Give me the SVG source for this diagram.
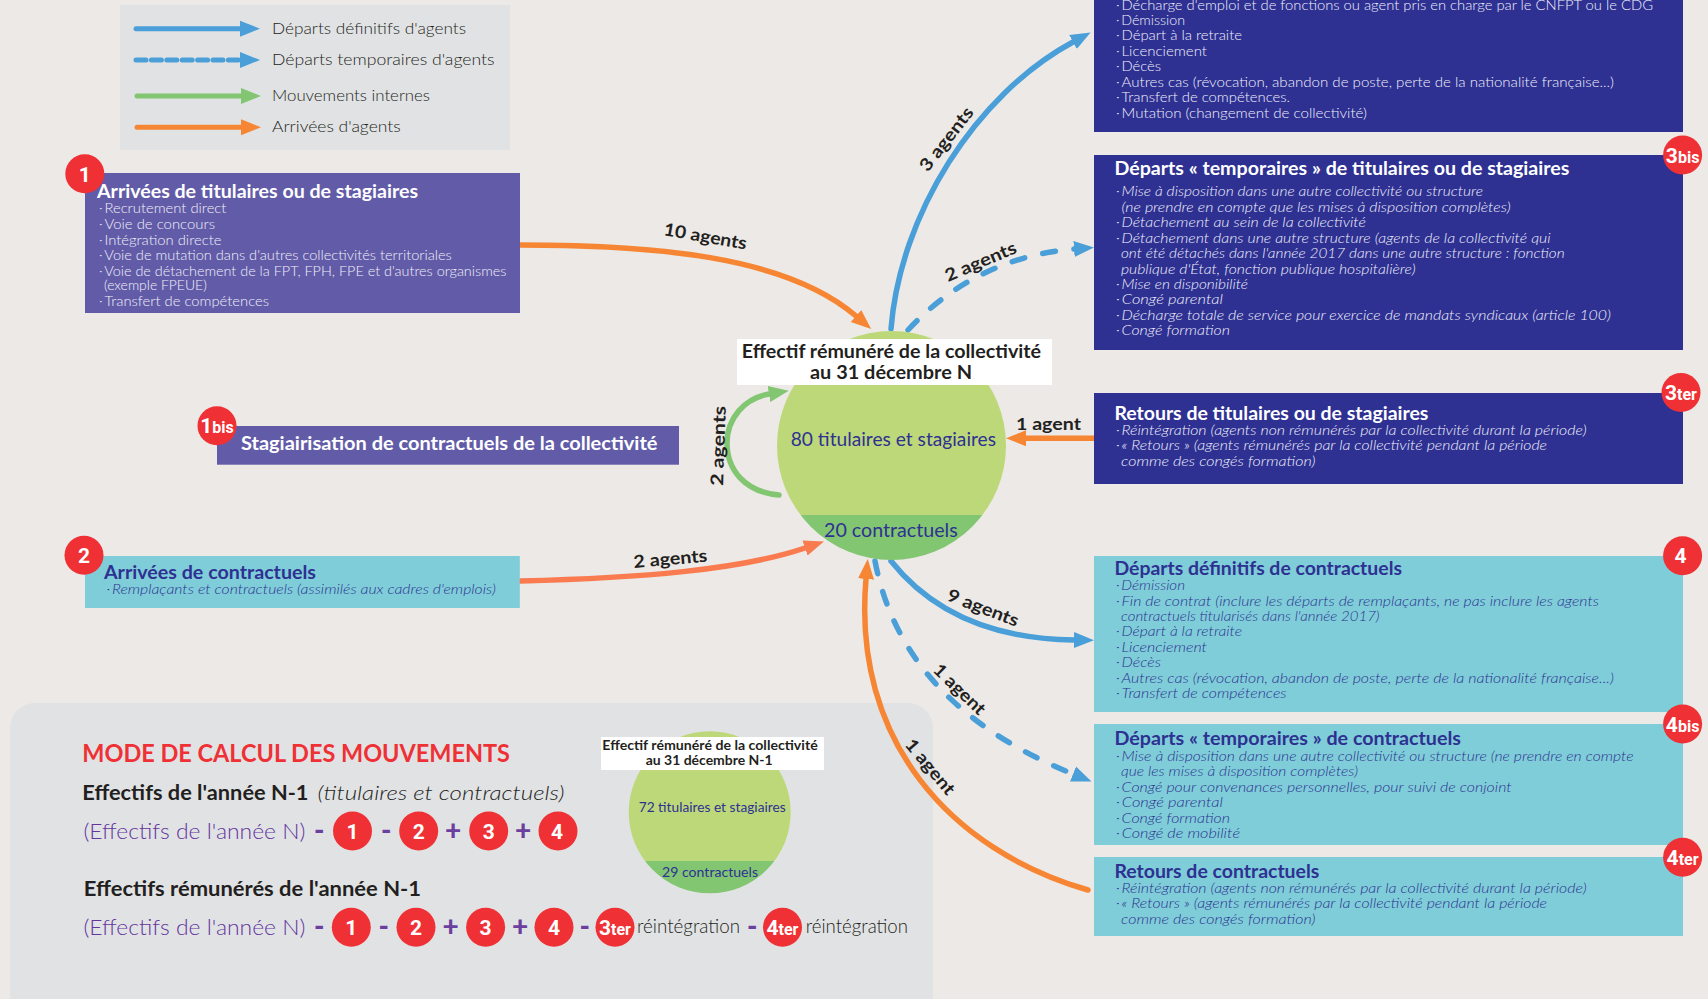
<svg xmlns="http://www.w3.org/2000/svg" width="1708" height="999" viewBox="0 0 1708 999">
<style>
text{font-family:Lato,"Liberation Sans",sans-serif}
.h{font-size:18.5px;font-weight:700}
.l{font-size:13px;font-weight:300}
.i{font-style:italic}
.w{fill:#fff}
.pl{fill:#f0eff8}
.db{fill:#f0f0fa}
.n{fill:#2e3192}
.lg{font-size:16.5px;fill:#231f20;font-weight:300}
.lab{font-size:17.5px;font-weight:700;fill:#231f20}
.bd{fill:#ef3034}
.bt{font-family:Roboto,"Liberation Sans",sans-serif;font-weight:700;fill:#fff;font-size:21px}
.bs{font-size:16px}
.blue{fill:none;stroke:#4a9fd8;stroke-width:5.5;stroke-linecap:round}
.dash{stroke-dasharray:13 18.5}
.or{fill:none;stroke:#f68633;stroke-width:5.5;stroke-linecap:round}
.or2{fill:none;stroke:#f97b4f;stroke-width:5.5;stroke-linecap:round}
.gr{fill:none;stroke:#82c672;stroke-width:5.5;stroke-linecap:round}
.lt{stroke-width:5}
.cap{font-weight:700;fill:#231f20}
.pur{fill:#63359f;font-size:22px;font-weight:300}
.sign{fill:#6b3fa0;font-size:28px;font-weight:900}
.blk{font-size:20px;font-weight:700;fill:#231f20}
.re{font-size:19px;fill:#231f20;font-weight:300}
</style>
<defs>
<marker id="mb" markerUnits="userSpaceOnUse" markerWidth="22" markerHeight="20" refX="0" refY="10" orient="auto"><path d="M0 2L20 10L0 18Z" fill="#4a9fd8"/></marker>
<marker id="mo" markerUnits="userSpaceOnUse" markerWidth="22" markerHeight="20" refX="0" refY="10" orient="auto"><path d="M0 2L20 10L0 18Z" fill="#f68633"/></marker>
<marker id="mo2" markerUnits="userSpaceOnUse" markerWidth="22" markerHeight="20" refX="0" refY="10" orient="auto"><path d="M0 2L20 10L0 18Z" fill="#f97b4f"/></marker>
<marker id="mg" markerUnits="userSpaceOnUse" markerWidth="22" markerHeight="20" refX="0" refY="10" orient="auto"><path d="M0 2L20 10L0 18Z" fill="#82c672"/></marker>
<clipPath id="c1"><circle cx="891.5" cy="445.5" r="114.5"/></clipPath>
<clipPath id="c2"><circle cx="709.7" cy="812.3" r="81"/></clipPath>
</defs>
<rect width="1708" height="999" fill="#ece9e6"/>

<g id="legend">
<rect x="120" y="5" width="390" height="145" fill="#e1e2e4"/>
<path class="blue lt" d="M136 28.7H240" marker-end="url(#mb)"/>
<path class="blue lt" style="stroke-dasharray:10 5.4" d="M136 60H240" marker-end="url(#mb)"/>
<path class="gr lt" d="M137 96H241" marker-end="url(#mg)"/>
<path class="or lt" d="M137 127.3H241" marker-end="url(#mo)"/>
<text class="lg" x="272" y="34" textLength="194" lengthAdjust="spacingAndGlyphs">Départs définitifs d'agents</text>
<text class="lg" x="272" y="65" textLength="222.6" lengthAdjust="spacingAndGlyphs">Départs temporaires d'agents</text>
<text class="lg" x="272" y="101" textLength="158" lengthAdjust="spacingAndGlyphs">Mouvements internes</text>
<text class="lg" x="272" y="132" textLength="128.7" lengthAdjust="spacingAndGlyphs">Arrivées d'agents</text>
</g>

<g id="panel-calcul">
<path d="M10 999V728a25 25 0 0 1 25-25H908a25 25 0 0 1 25 25V999Z" fill="#e1e2e4"/>
<text x="82.3" y="762" textLength="427.7" lengthAdjust="spacingAndGlyphs" font-size="25" font-weight="700" fill="#ef3034">MODE DE CALCUL DES MOUVEMENTS</text>
<text class="blk" x="82.3" y="800" textLength="226.2" lengthAdjust="spacingAndGlyphs">Effectifs de l'année N-1</text>
<text x="317.6" y="800" textLength="246.9" lengthAdjust="spacingAndGlyphs" font-size="20" font-style="italic" font-weight="300" fill="#231f20">(titulaires et contractuels)</text>
<text class="pur" x="83.4" y="839" textLength="222" lengthAdjust="spacingAndGlyphs">(Effectifs de l'année N)</text>
<text class="sign" x="314" y="840">-</text>
<text class="sign" x="381" y="840">-</text>
<text class="sign" x="445" y="840">+</text>
<text class="sign" x="515" y="840">+</text>
<g id="calc-a1"><circle class="bd" cx="352.5" cy="831" r="19.5"/><text class="bt" x="352.5" y="838.5" text-anchor="middle">1</text></g>
<g id="calc-a2"><circle class="bd" cx="418.7" cy="831" r="19.5"/><text class="bt" x="418.7" y="838.5" text-anchor="middle">2</text></g>
<g id="calc-a3"><circle class="bd" cx="488.7" cy="831" r="19.5"/><text class="bt" x="488.7" y="838.5" text-anchor="middle">3</text></g>
<g id="calc-a4"><circle class="bd" cx="558" cy="831" r="19.5"/><text class="bt" x="557" y="838.5" text-anchor="middle">4</text></g>
<text class="blk" x="83.8" y="895.7" textLength="337.2" lengthAdjust="spacingAndGlyphs">Effectifs rémunérés de l'année N-1</text>
<text class="pur" x="83.4" y="935" textLength="222" lengthAdjust="spacingAndGlyphs">(Effectifs de l'année N)</text>
<text class="sign" x="314" y="936">-</text>
<text class="sign" x="378.5" y="936">-</text>
<text class="sign" x="442.5" y="936">+</text>
<text class="sign" x="512" y="936">+</text>
<text class="sign" x="579.5" y="936">-</text>
<text class="sign" x="747" y="936">-</text>
<g id="calc-b1"><circle class="bd" cx="351.3" cy="927.3" r="19.5"/><text class="bt" x="351.3" y="934.8" text-anchor="middle">1</text></g>
<g id="calc-b2"><circle class="bd" cx="416" cy="927.3" r="19.5"/><text class="bt" x="416" y="934.8" text-anchor="middle">2</text></g>
<g id="calc-b3"><circle class="bd" cx="485.6" cy="927.3" r="19.5"/><text class="bt" x="485.6" y="934.8" text-anchor="middle">3</text></g>
<g id="calc-b4"><circle class="bd" cx="554" cy="927.3" r="19.5"/><text class="bt" x="554" y="934.8" text-anchor="middle">4</text></g>
<g id="calc-b3ter"><circle class="bd" cx="615" cy="927.3" r="19.5"/><text class="bt" x="615" y="934.8" text-anchor="middle">3<tspan class="bs">ter</tspan></text></g>
<text class="re" x="637" y="933" textLength="103" lengthAdjust="spacingAndGlyphs">réintégration</text>
<g id="calc-b4ter"><circle class="bd" cx="782.5" cy="927.3" r="19.5"/><text class="bt" x="782.5" y="934.8" text-anchor="middle">4<tspan class="bs">ter</tspan></text></g>
<text class="re" x="805.7" y="933" textLength="102.3" lengthAdjust="spacingAndGlyphs">réintégration</text>
</g>

<g id="cercle-n-1">
<g clip-path="url(#c2)"><rect x="620" y="725" width="180" height="136" fill="#bdd878"/><rect x="620" y="861" width="180" height="40" fill="#82c672"/></g>
<rect x="601" y="737" width="223" height="33" fill="#fff"/>
<text class="cap" x="602.3" y="750" font-size="13.5" textLength="215.4" lengthAdjust="spacingAndGlyphs">Effectif rémunéré de la collectivité</text>
<text class="cap" x="645.7" y="764.7" font-size="13.5" textLength="127" lengthAdjust="spacingAndGlyphs">au 31 décembre N-1</text>
<text class="n" x="638.7" y="812" font-size="13" textLength="147" lengthAdjust="spacingAndGlyphs">72 titulaires et stagiaires</text>
<text class="n" x="662" y="877" font-size="13.5" textLength="96" lengthAdjust="spacingAndGlyphs">29 contractuels</text>
</g>

<g id="connecteurs">
<path class="or" d="M520 245C650 245 785 255 856 316" marker-end="url(#mo)"/>
<path class="blue" d="M891 329C900 215 975 95 1073 42" marker-end="url(#mb)"/>
<path class="blue dash" d="M908 330C945 290 1000 255 1074 249" marker-end="url(#mb)"/>
<path class="or" d="M1094 438.3H1026" marker-end="url(#mo)"/>
<path class="gr" d="M779 495C745 492 727 470 727 443C727 418 745 398 769 394" marker-end="url(#mg)"/>
<path class="or2" d="M520 581C640 578 740 570 805 548" marker-end="url(#mo2)"/>
<path class="blue" d="M891 561C930 610 990 639 1074 640" marker-end="url(#mb)"/>
<path class="blue dash" d="M875 561C890 640 940 720 1073 774" marker-end="url(#mb)"/>
<path class="or" d="M1088 890C950 850 852 740 866 579" marker-end="url(#mo)"/>
<text class="lab" textLength="84" lengthAdjust="spacingAndGlyphs" transform="translate(663 235) rotate(10)">10 agents</text>
<text class="lab" textLength="76" lengthAdjust="spacingAndGlyphs" transform="translate(927.7 172.7) rotate(-52)">3 agents</text>
<text class="lab" textLength="76" lengthAdjust="spacingAndGlyphs" transform="translate(948 282) rotate(-23)">2 agents</text>
<text class="lab" textLength="65" lengthAdjust="spacingAndGlyphs" transform="translate(1016 430)">1 agent</text>
<text class="lab" textLength="80" lengthAdjust="spacingAndGlyphs" transform="translate(723 486) rotate(-88)">2 agents</text>
<text class="lab" textLength="74" lengthAdjust="spacingAndGlyphs" transform="translate(634 568) rotate(-5)">2 agents</text>
<text class="lab" textLength="75" lengthAdjust="spacingAndGlyphs" transform="translate(946 600) rotate(21)">9 agents</text>
<text class="lab" textLength="65" lengthAdjust="spacingAndGlyphs" transform="translate(932 671) rotate(44)">1 agent</text>
<text class="lab" textLength="67" lengthAdjust="spacingAndGlyphs" transform="translate(904 745) rotate(50)">1 agent</text>
</g>

<g id="cercle-n">
<g clip-path="url(#c1)"><rect x="770" y="325" width="245" height="190" fill="#bdd878"/><rect x="770" y="515" width="245" height="50" fill="#82c672"/></g>
<rect x="737" y="339" width="315" height="46" fill="#fff"/>
<text class="cap" x="741.7" y="358" font-size="19" textLength="299.3" lengthAdjust="spacingAndGlyphs">Effectif rémunéré de la collectivité</text>
<text class="cap" x="810" y="379" font-size="19" textLength="162" lengthAdjust="spacingAndGlyphs">au 31 décembre N</text>
<text class="n" x="790.7" y="446" font-size="19.5" textLength="205.3" lengthAdjust="spacingAndGlyphs">80 titulaires et stagiaires</text>
<text class="n" x="824" y="536.7" font-size="19.5" textLength="133.7" lengthAdjust="spacingAndGlyphs">20 contractuels</text>
</g>

<g id="n1">
<rect x="85" y="173" width="435" height="140" fill="#625ca8"/>
<circle class="bd" cx="84.8" cy="173.7" r="19.5"/><text class="bt" x="84.8" y="181.5" text-anchor="middle">1</text>
<text class="h w" x="97" y="198" textLength="321" lengthAdjust="spacingAndGlyphs">Arrivées de titulaires ou de stagiaires</text>
<text class="l pl" x="99" y="213" textLength="127.4" lengthAdjust="spacingAndGlyphs">·&#8201;Recrutement direct</text>
<text class="l pl" x="99" y="228.5" textLength="116" lengthAdjust="spacingAndGlyphs">·&#8201;Voie de concours</text>
<text class="l pl" x="99" y="244.5" textLength="122.4" lengthAdjust="spacingAndGlyphs">·&#8201;Intégration directe</text>
<text class="l pl" x="99" y="259.5" textLength="352.8" lengthAdjust="spacingAndGlyphs">·&#8201;Voie de mutation dans d'autres collectivités territoriales</text>
<text class="l pl" x="99" y="275.5" textLength="407.4" lengthAdjust="spacingAndGlyphs">·&#8201;Voie de détachement de la FPT, FPH, FPE et d'autres organismes</text>
<text class="l pl" x="104" y="290" textLength="102.8" lengthAdjust="spacingAndGlyphs">(exemple FPEUE)</text>
<text class="l pl" x="99" y="306" textLength="170" lengthAdjust="spacingAndGlyphs">·&#8201;Transfert de compétences</text>
</g>

<g id="n1bis">
<rect x="217" y="426" width="462" height="38.7" fill="#625ca8"/>
<circle class="bd" cx="217" cy="425.7" r="19.5"/><text class="bt" x="217" y="433.2" text-anchor="middle">1<tspan class="bs">bis</tspan></text>
<text class="h w" x="241" y="450" textLength="416.4" lengthAdjust="spacingAndGlyphs">Stagiairisation de contractuels de la collectivité</text>
</g>

<g id="n2">
<rect x="85" y="556" width="434.8" height="52" fill="#7fcdd8"/>
<circle class="bd" cx="84" cy="555.3" r="19.5"/><text class="bt" x="84" y="562.8" text-anchor="middle">2</text>
<text class="h n" x="104" y="579" textLength="212" lengthAdjust="spacingAndGlyphs">Arrivées de contractuels</text>
<text class="l i n" x="106.5" y="594" textLength="389.3" lengthAdjust="spacingAndGlyphs">·&#8201;Remplaçants et contractuels (assimilés aux cadres d'emplois)</text>
</g>

<g id="n3">
<rect x="1094" y="-10" width="589" height="142" fill="#2e3192"/>
<text class="l db" x="1116" y="9.5" textLength="537" lengthAdjust="spacingAndGlyphs">·&#8201;Décharge d'emploi et de fonctions ou agent pris en charge par le CNFPT ou le CDG</text>
<text class="l db" x="1116" y="25" textLength="69" lengthAdjust="spacingAndGlyphs">·&#8201;Démission</text>
<text class="l db" x="1116" y="40" textLength="126" lengthAdjust="spacingAndGlyphs">·&#8201;Départ à la retraite</text>
<text class="l db" x="1116" y="56" textLength="91" lengthAdjust="spacingAndGlyphs">·&#8201;Licenciement</text>
<text class="l db" x="1116" y="71" textLength="45" lengthAdjust="spacingAndGlyphs">·&#8201;Décès</text>
<text class="l db" x="1116" y="87" textLength="498" lengthAdjust="spacingAndGlyphs">·&#8201;Autres cas (révocation, abandon de poste, perte de la nationalité française...)</text>
<text class="l db" x="1116" y="102" textLength="174" lengthAdjust="spacingAndGlyphs">·&#8201;Transfert de compétences.</text>
<text class="l db" x="1116" y="118" textLength="251" lengthAdjust="spacingAndGlyphs">·&#8201;Mutation (changement de collectivité)</text>
</g>

<g id="n3bis">
<rect x="1094" y="155" width="589" height="195" fill="#2e3192"/>
<circle class="bd" cx="1682.6" cy="155" r="19.5"/><text class="bt" x="1682.6" y="162.5" text-anchor="middle">3<tspan class="bs">bis</tspan></text>
<text class="h w" x="1114.4" y="175" textLength="455" lengthAdjust="spacingAndGlyphs">Départs « temporaires » de titulaires ou de stagiaires</text>
<text class="l i db" x="1116" y="196" textLength="367" lengthAdjust="spacingAndGlyphs">·&#8201;Mise à disposition dans une autre collectivité ou structure</text>
<text class="l i db" x="1121.6" y="211.5" textLength="389" lengthAdjust="spacingAndGlyphs">(ne prendre en compte que les mises à disposition complètes)</text>
<text class="l i db" x="1116" y="226.7" textLength="250" lengthAdjust="spacingAndGlyphs">·&#8201;Détachement au sein de la collectivité</text>
<text class="l i db" x="1116" y="242.7" textLength="434.6" lengthAdjust="spacingAndGlyphs">·&#8201;Détachement dans une autre structure (agents de la collectivité qui</text>
<text class="l i db" x="1121" y="257.7" textLength="443.6" lengthAdjust="spacingAndGlyphs">ont été détachés dans l'année 2017 dans une autre structure : fonction</text>
<text class="l i db" x="1121" y="273.7" textLength="294.6" lengthAdjust="spacingAndGlyphs">publique d'État, fonction publique hospitalière)</text>
<text class="l i db" x="1116" y="288.7" textLength="132" lengthAdjust="spacingAndGlyphs">·&#8201;Mise en disponibilité</text>
<text class="l i db" x="1116" y="304" textLength="107" lengthAdjust="spacingAndGlyphs">·&#8201;Congé parental</text>
<text class="l i db" x="1116" y="319.7" textLength="495" lengthAdjust="spacingAndGlyphs">·&#8201;Décharge totale de service pour exercice de mandats syndicaux (article 100)</text>
<text class="l i db" x="1116" y="334.7" textLength="114" lengthAdjust="spacingAndGlyphs">·&#8201;Congé formation</text>
</g>

<g id="n3ter">
<rect x="1094" y="393" width="589" height="91" fill="#2e3192"/>
<circle class="bd" cx="1681" cy="392.5" r="19.5"/><text class="bt" x="1681" y="400" text-anchor="middle">3<tspan class="bs">ter</tspan></text>
<text class="h w" x="1114.4" y="420" textLength="314" lengthAdjust="spacingAndGlyphs">Retours de titulaires ou de stagiaires</text>
<text class="l i db" x="1116" y="435" textLength="470.6" lengthAdjust="spacingAndGlyphs">·&#8201;Réintégration (agents non rémunérés par la collectivité durant la période)</text>
<text class="l i db" x="1116" y="450" textLength="431" lengthAdjust="spacingAndGlyphs">·&#8201;« Retours » (agents rémunérés par la collectivité pendant la période</text>
<text class="l i db" x="1121" y="466" textLength="194.5" lengthAdjust="spacingAndGlyphs">comme des congés formation)</text>
</g>

<g id="n4">
<rect x="1094" y="556" width="589" height="156" fill="#7fcdd8"/>
<circle class="bd" cx="1682.6" cy="555.7" r="19.5"/><text class="bt" x="1680.6" y="563.2" text-anchor="middle">4</text>
<text class="h n" x="1114.4" y="575" textLength="287.6" lengthAdjust="spacingAndGlyphs">Départs définitifs de contractuels</text>
<text class="l i n" x="1116" y="590" textLength="69" lengthAdjust="spacingAndGlyphs">·&#8201;Démission</text>
<text class="l i n" x="1116" y="606" textLength="483" lengthAdjust="spacingAndGlyphs">·&#8201;Fin de contrat (inclure les départs de remplaçants, ne pas inclure les agents</text>
<text class="l i n" x="1121" y="621" textLength="258.6" lengthAdjust="spacingAndGlyphs">contractuels titularisés dans l'année 2017)</text>
<text class="l i n" x="1116" y="636" textLength="126" lengthAdjust="spacingAndGlyphs">·&#8201;Départ à la retraite</text>
<text class="l i n" x="1116" y="652" textLength="91" lengthAdjust="spacingAndGlyphs">·&#8201;Licenciement</text>
<text class="l i n" x="1116" y="667" textLength="45" lengthAdjust="spacingAndGlyphs">·&#8201;Décès</text>
<text class="l i n" x="1116" y="683" textLength="498" lengthAdjust="spacingAndGlyphs">·&#8201;Autres cas (révocation, abandon de poste, perte de la nationalité française...)</text>
<text class="l i n" x="1116" y="698" textLength="170.6" lengthAdjust="spacingAndGlyphs">·&#8201;Transfert de compétences</text>
</g>

<g id="n4bis">
<rect x="1094" y="724" width="589" height="121" fill="#7fcdd8"/>
<circle class="bd" cx="1682.6" cy="724" r="19.5"/><text class="bt" x="1682.6" y="731.5" text-anchor="middle">4<tspan class="bs">bis</tspan></text>
<text class="h n" x="1114.4" y="745" textLength="346.6" lengthAdjust="spacingAndGlyphs">Départs « temporaires » de contractuels</text>
<text class="l i n" x="1116" y="761" textLength="517.5" lengthAdjust="spacingAndGlyphs">·&#8201;Mise à disposition dans une autre collectivité ou structure (ne prendre en compte</text>
<text class="l i n" x="1121" y="776" textLength="237" lengthAdjust="spacingAndGlyphs">que les mises à disposition complètes)</text>
<text class="l i n" x="1116" y="792" textLength="395.7" lengthAdjust="spacingAndGlyphs">·&#8201;Congé pour convenances personnelles, pour suivi de conjoint</text>
<text class="l i n" x="1116" y="807" textLength="107" lengthAdjust="spacingAndGlyphs">·&#8201;Congé parental</text>
<text class="l i n" x="1116" y="823" textLength="114" lengthAdjust="spacingAndGlyphs">·&#8201;Congé formation</text>
<text class="l i n" x="1116" y="838" textLength="124" lengthAdjust="spacingAndGlyphs">·&#8201;Congé de mobilité</text>
</g>

<g id="n4ter">
<rect x="1094" y="857" width="589" height="79" fill="#7fcdd8"/>
<circle class="bd" cx="1682.6" cy="857.3" r="19.5"/><text class="bt" x="1682.6" y="864.8" text-anchor="middle">4<tspan class="bs">ter</tspan></text>
<text class="h n" x="1114.4" y="878" textLength="205" lengthAdjust="spacingAndGlyphs">Retours de contractuels</text>
<text class="l i n" x="1116" y="893" textLength="470.6" lengthAdjust="spacingAndGlyphs">·&#8201;Réintégration (agents non rémunérés par la collectivité durant la période)</text>
<text class="l i n" x="1116" y="908" textLength="431" lengthAdjust="spacingAndGlyphs">·&#8201;« Retours » (agents rémunérés par la collectivité pendant la période</text>
<text class="l i n" x="1121" y="924" textLength="194.5" lengthAdjust="spacingAndGlyphs">comme des congés formation)</text>
</g>
</svg>
